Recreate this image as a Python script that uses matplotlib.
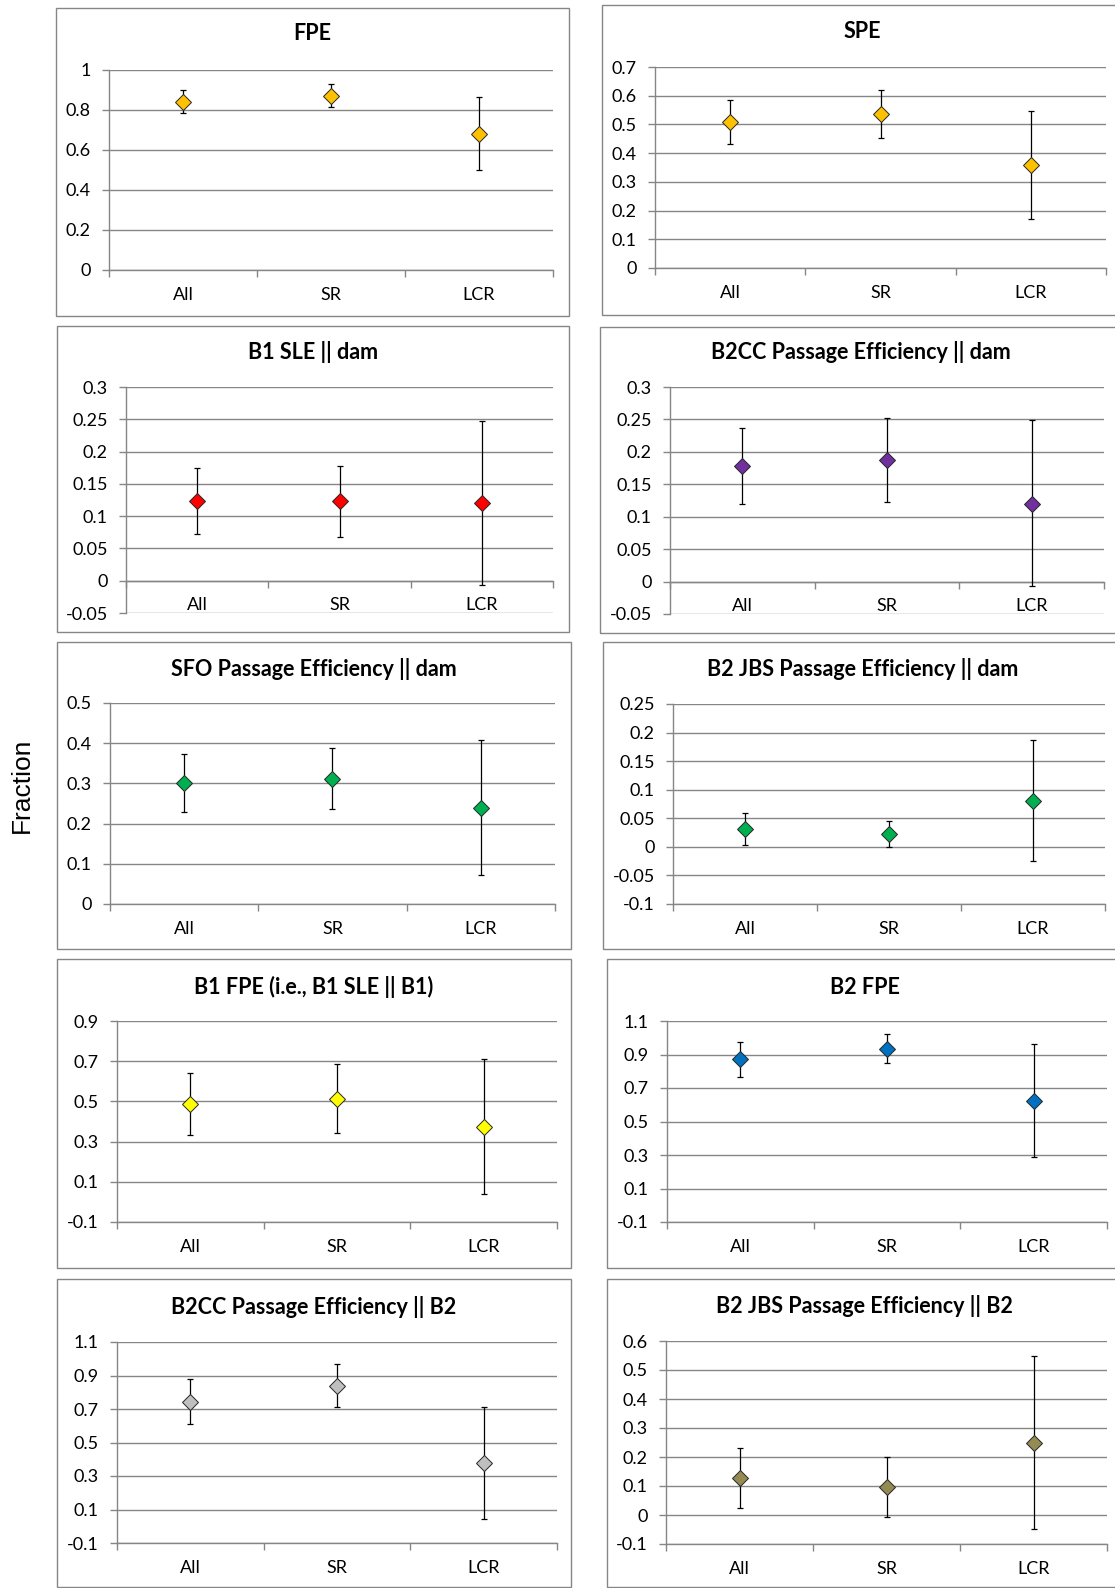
import matplotlib
matplotlib.use('Agg')
import matplotlib.pyplot as plt
from matplotlib.patches import Rectangle

# -----------------------------------------------------------------------------
# data (point value, lower end, upper end of error bar)

categories = ['All', 'SR', 'LCR']

fpe_val = [0.842, 0.872, 0.682]
fpe_low = [0.783, 0.815, 0.498]
fpe_high = [0.898, 0.928, 0.863]
fpe_ticks = ['0', '0.2', '0.4', '0.6', '0.8', '1']

spe_val = [0.508, 0.535, 0.359]
spe_low = [0.432, 0.454, 0.172]
spe_high = [0.585, 0.619, 0.548]
spe_ticks = ['0', '0.1', '0.2', '0.3', '0.4', '0.5', '0.6', '0.7']

b1sle_val = [0.123, 0.123, 0.120]
b1sle_low = [0.072, 0.068, -0.007]
b1sle_high = [0.174, 0.178, 0.248]
b1sle_ticks = ['-0.05', '0', '0.05', '0.1', '0.15', '0.2', '0.25', '0.3']

b2cc_dam_val = [0.178, 0.188, 0.120]
b2cc_dam_low = [0.119, 0.123, -0.007]
b2cc_dam_high = [0.237, 0.252, 0.249]
b2cc_dam_ticks = ['-0.05', '0', '0.05', '0.1', '0.15', '0.2', '0.25', '0.3']

sfo_val = [0.300, 0.312, 0.240]
sfo_low = [0.230, 0.236, 0.073]
sfo_high = [0.372, 0.388, 0.407]
sfo_ticks = ['0', '0.1', '0.2', '0.3', '0.4', '0.5']

b2jbs_dam_val = [0.031, 0.023, 0.081]
b2jbs_dam_low = [0.004, -0.001, -0.025]
b2jbs_dam_high = [0.059, 0.046, 0.187]
b2jbs_dam_ticks = ['-0.1', '-0.05', '0', '0.05', '0.1', '0.15', '0.2', '0.25']

b1fpe_val = [0.488, 0.514, 0.375]
b1fpe_low = [0.335, 0.345, 0.041]
b1fpe_high = [0.642, 0.686, 0.710]
b1fpe_ticks = ['-0.1', '0.1', '0.3', '0.5', '0.7', '0.9']

b2fpe_val = [0.871, 0.935, 0.625]
b2fpe_low = [0.766, 0.850, 0.289]
b2fpe_high = [0.977, 1.020, 0.961]
b2fpe_ticks = ['-0.1', '0.1', '0.3', '0.5', '0.7', '0.9', '1.1']

b2cc_b2_val = [0.743, 0.838, 0.376]
b2cc_b2_low = [0.608, 0.709, 0.041]
b2cc_b2_high = [0.882, 0.967, 0.709]
b2cc_b2_ticks = ['-0.1', '0.1', '0.3', '0.5', '0.7', '0.9', '1.1']

b2jbs_b2_val = [0.128, 0.095, 0.249]
b2jbs_b2_low = [0.023, -0.007, -0.049]
b2jbs_b2_high = [0.232, 0.200, 0.549]
b2jbs_b2_ticks = ['-0.1', '0', '0.1', '0.2', '0.3', '0.4', '0.5', '0.6']

# -----------------------------------------------------------------------------
# layout in pixels of the 1115 x 1588 picture

W, H = 1115, 1588
GRID = '#868686'
FONT = ['Lato', 'DejaVu Sans']

fig = plt.figure(figsize=(W / 100, H / 100), dpi=100)
fig.patch.set_facecolor('white')

# title, values, colour, box (x0, y0, x1, y1), plot (x0, x1, ytop, ybot), title y, x axis at zero
panels = [
    ('FPE', fpe_val, fpe_low, fpe_high, fpe_ticks, '#FFC000',
     (56, 8, 569, 316), (109, 553, 70, 270), 34, False),
    ('SPE', spe_val, spe_low, spe_high, spe_ticks, '#FFC000',
     (602, 5, 1122, 315), (655, 1106, 67, 268), 32, False),
    ('B1 SLE || dam', b1sle_val, b1sle_low, b1sle_high, b1sle_ticks, '#FF0000',
     (57, 326, 569, 632), (126, 553, 387, 613), 352, True),
    ('B2CC Passage Efficiency || dam', b2cc_dam_val, b2cc_dam_low, b2cc_dam_high, b2cc_dam_ticks, '#7030A0',
     (600, 327, 1122, 633), (670, 1104, 387, 614), 352, True),
    ('SFO Passage Efficiency || dam', sfo_val, sfo_low, sfo_high, sfo_ticks, '#00B050',
     (57, 642, 571, 949), (110, 555, 703, 904), 669, False),
    ('B2 JBS Passage Efficiency || dam', b2jbs_dam_val, b2jbs_dam_low, b2jbs_dam_high, b2jbs_dam_ticks, '#00B050',
     (603, 642, 1122, 949), (673, 1105, 704, 904), 669, False),
    ('B1 FPE (i.e., B1 SLE || B1)', b1fpe_val, b1fpe_low, b1fpe_high, b1fpe_ticks, '#FFFF00',
     (57, 959, 571, 1268), (117, 557, 1021, 1222), 987, False),
    ('B2 FPE', b2fpe_val, b2fpe_low, b2fpe_high, b2fpe_ticks, '#0070C0',
     (607, 959, 1122, 1268), (667, 1107, 1021, 1222), 987, False),
    ('B2CC Passage Efficiency || B2', b2cc_b2_val, b2cc_b2_low, b2cc_b2_high, b2cc_b2_ticks, '#BFBFBF',
     (57, 1279, 571, 1587), (117, 557, 1342, 1543), 1307, False),
    ('B2 JBS Passage Efficiency || B2', b2jbs_b2_val, b2jbs_b2_low, b2jbs_b2_high, b2jbs_b2_ticks, '#948A54',
     (607, 1279, 1122, 1587), (666, 1107, 1341, 1544), 1306, False),
]

for title, val, low, high, ticks, color, box, plot, ty, zero_axis in panels:
    bx0, by0, bx1, by1 = box
    fig.patches.append(Rectangle((bx0 / W, 1 - by1 / H), (bx1 - bx0) / W, (by1 - by0) / H,
                                 transform=fig.transFigure, fill=False,
                                 edgecolor=GRID, linewidth=1.0, zorder=0))
    fig.text((bx0 + bx1) / 2 / W, 1 - ty / H, title, ha='center', va='center',
             fontsize=15.5, fontweight='bold', family=FONT)

    px0, px1, ptop, pbot = plot
    ax = fig.add_axes([px0 / W, 1 - pbot / H, (px1 - px0) / W, (pbot - ptop) / H])
    # spine position first - moving it later resets the tick label fonts
    if zero_axis:
        ax.spines['bottom'].set_position(('data', 0))

    x = range(len(categories))
    yerr = [[v - lo for v, lo in zip(val, low)], [hi - v for v, hi in zip(val, high)]]
    ax.errorbar(x, val, yerr=yerr, fmt='none', ecolor='black', elinewidth=0.9,
                capsize=2.2, capthick=0.9, zorder=3)
    ax.plot(x, val, 'D', ms=8.5, mfc=color, mec='#262626', mew=0.7, zorder=4)

    yt = [float(t) for t in ticks]
    ax.set_xlim(-0.5, 2.5)
    ax.set_ylim(yt[0], yt[-1])
    ax.set_yticks(yt)
    ax.set_yticklabels(ticks, family=FONT, fontsize=13)
    ax.set_xticks(list(x))
    ax.set_xticklabels(categories, family=FONT, fontsize=13)
    ax.set_xticks([-0.5, 0.5, 1.5, 2.5], minor=True)
    ax.tick_params(axis='x', which='major', length=0, pad=12)
    ax.tick_params(axis='x', which='minor', length=5, width=1, color=GRID, direction='out')
    ax.tick_params(axis='y', length=5, width=1, color=GRID, pad=8)
    ax.grid(axis='y', color=GRID, linewidth=1)
    ax.set_axisbelow(True)
    for s in ['top', 'right']:
        ax.spines[s].set_visible(False)
    for s in ['left', 'bottom']:
        ax.spines[s].set_color(GRID)
        ax.spines[s].set_linewidth(1)
    ax.set_facecolor('none')

fig.text(22 / W, 1 - 785 / H, 'Fraction', rotation=90, ha='center', va='center',
         fontsize=19, family=['Liberation Sans', 'DejaVu Sans'])

fig.savefig('out.png', dpi=100)
